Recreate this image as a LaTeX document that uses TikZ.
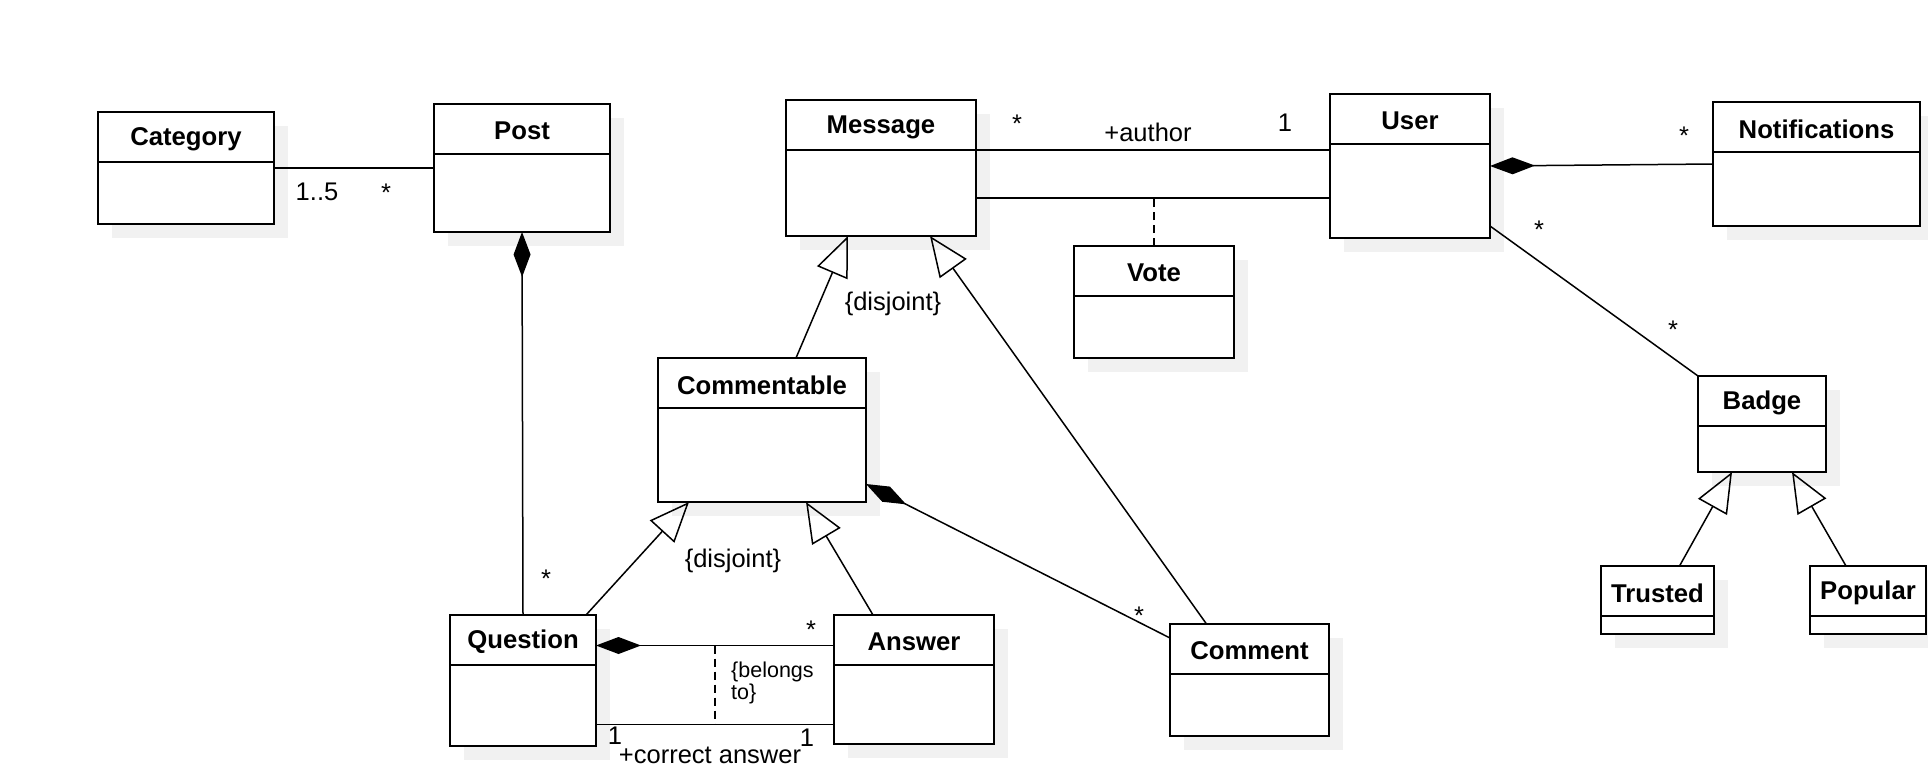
\documentclass[tikz,border=0pt]{standalone}
\usepackage{fontspec}
\setmainfont{Liberation Sans}
\usetikzlibrary{arrows.meta, calc}
\definecolor{shadowgray}{RGB}{241, 241, 241}

\begin{document}
\begin{tikzpicture}[x=1pt, y=-1pt,
  cls/.style={draw, fill=white, line width=2pt, inner sep=0pt, outer sep=0pt},
  hd/.style={font=\fontsize{25.7}{30}\selectfont\bfseries},
  lab/.style={font=\fontsize{25.5}{28}\selectfont, inner sep=0pt},
  ln/.style={line width=1.5pt},
  dsh/.style={line width=1.5pt, dash pattern=on 8pt off 5pt},
  comp/.style={line width=1.5pt, {Diamond[length=45pt, width=17pt]}-},
  inh/.style={line width=1.5pt, -{Triangle[open, length=40pt, width=33pt]}},
]
  \useasboundingbox (0, 0) rectangle (1928, 772);

  % classes: name/left/top/width/height/title
  \foreach \n/\x/\y/\w/\h/\t in {
    cat/98/112/176/112/Category, post/434/104/176/128/Post, msg/786/100/190/136/Message,
    user/1330/94/160/144/User, notif/1713/102/207/124/Notifications, vote/1074/246/160/112/Vote,
    comt/658/358/208/144/Commentable, quest/450/615/146/131/Question, ans/834/615/160/129/Answer,
    cmt/1170/624/159/112/Comment, badge/1698/376/128/96/Badge, trus/1601/566/113/68/Trusted,
    pop/1810/566/116/68/Popular}
  {
    \fill[shadowgray] (\x+14, \y+14) rectangle ++(\w, \h);
    \node[cls, minimum width=\w pt, minimum height=\h pt] (\n) at (\x+\w/2, \y+\h/2) {};
    \draw[line width=2pt] ([yshift=-50pt]\n.north west) -- ([yshift=-50pt]\n.north east);
    \node[hd] at ([yshift=-27pt]\n.north) {\t};
  }

  \draw[ln] (cat) -- (post);
  \node[lab] at (317, 192) {1..5};
  \node[lab] at (386, 193) {*};

  \draw[comp] (post.south) -- (quest.north);
  \node[lab] at (546, 579) {*};

  % message -- user, with vote
  \coordinate (hi) at ([yshift=16pt]user.west);
  \coordinate (lo) at ([yshift=-32pt]user.west);
  \draw[ln] (msg.east |- hi) -- (hi);
  \draw[ln] (msg.east |- lo) -- (lo);
  \draw[dsh] (vote.north) -- (vote.north |- lo);
  \node[lab] at (1017, 124) {*};
  \node[lab] at (1148, 132) {+author};
  \node[lab] at (1285, 123) {1};

  \draw[comp] (user.east) -- (notif.west);
  \node[lab] at (1684, 136) {*};
  \draw[ln] ([yshift=-60pt]user.east) -- (badge.north west);
  \node[lab] at (1539, 230) {*};
  \node[lab] at (1673, 330) {*};

  % generalisations
  \draw[inh] ([xshift=34pt]comt.north) -- ([xshift=-33pt]msg.south);
  \draw[inh] ([xshift=-43pt]cmt.north) -- ([xshift=49pt]msg.south);
  \node[lab] at (893, 304) {\{disjoint\}};
  \draw[inh] ([xshift=63pt]quest.north) -- ([xshift=-73pt]comt.south);
  \draw[inh] ([xshift=-41pt]ans.north) -- ([xshift=44pt]comt.south);
  \node[lab] at (733, 561) {\{disjoint\}};
  \draw[inh] ([xshift=22pt]trus.north) -- ([xshift=-30pt]badge.south);
  \draw[inh] ([xshift=-22pt]pop.north) -- ([xshift=30pt]badge.south);

  \draw[comp] ([yshift=-54pt]comt.east) -- ([yshift=42pt]cmt.west);
  \node[lab] at (1139, 616) {*};

  % question -- answer
  \coordinate (qa) at ([yshift=35pt]quest.east);
  \coordinate (qb) at ([yshift=-44pt]quest.east);
  \draw[comp] (qa) -- (ans.west |- qa);
  \draw[ln] (qb) -- (ans.west |- qb);
  \draw[dsh] ($(qa)!.5!(ans.west |- qa)$) -- ($(qb)!.5!(ans.west |- qb)$);
  \node[lab] at (811, 630) {*};
  \node[lab, font=\fontsize{21.5}{22}\selectfont, align=left, anchor=north west] at (731, 662) {\{belongs\\to\}};
  \node[lab] at (615, 736) {1};
  \node[lab] at (807, 738) {1};
  \node[lab] at (710, 755) {+correct answer};
\end{tikzpicture}
\end{document}
